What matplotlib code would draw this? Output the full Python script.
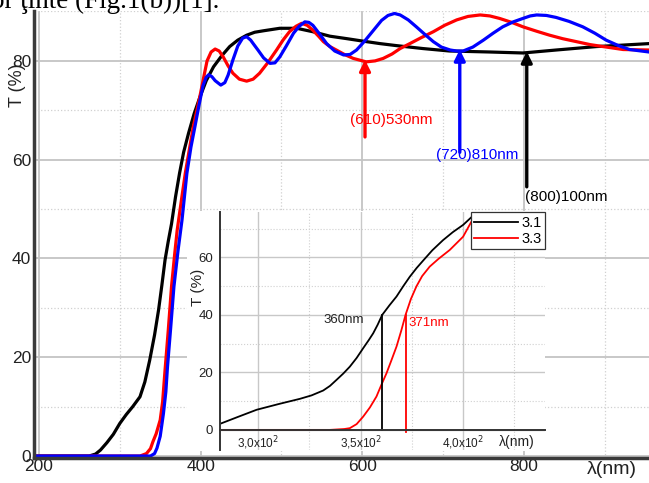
import numpy as np
import matplotlib

matplotlib.use("Agg")

import matplotlib.pyplot as plt
from matplotlib.patches import Rectangle

plt.rcParams['font.family'] = ['Liberation Sans', 'DejaVu Sans']

# main spectra (wavelength nm, T %)
black_wl = [195, 262, 270, 276, 284, 292, 300, 308, 316, 325, 331, 337, 343, 348, 352, 356, 360, 364,
            369, 374, 379, 385, 392, 399, 407, 416, 426, 436, 446, 457, 467, 478, 498, 519,
            539, 560, 581, 601, 622, 642, 675, 708, 758, 799, 840, 890, 923, 955]
black_t = [0, 0, 0.4, 1.2, 2.7, 4.4, 6.6, 8.4, 10.0, 12.0, 15.0, 19.4, 24.5, 29.6, 34.5, 39.7, 43.5, 47.0,
           52.5, 57.3, 61.5, 65.3, 69.3, 72.6, 76.0, 78.8, 81.0, 82.9, 84.2, 85.2, 85.8, 86.1, 86.6, 86.6,
           85.9, 85.0, 84.5, 84.0, 83.5, 83.1, 82.5, 82.0, 81.8, 81.6, 82.2, 82.9, 83.2, 83.5]

red_wl = [195, 325, 333, 338, 341, 345, 350, 353, 356, 360, 364, 368, 371, 376, 381, 386, 391,
          399, 404, 408, 413, 418, 423, 428, 434, 440, 448, 457, 465, 473, 483, 494, 502, 510,
          518, 525, 532, 539, 546, 552, 560, 568, 578, 589, 605, 616, 626, 637, 647, 659, 673,
          688, 702, 717, 731, 746, 758, 770, 785, 799, 816, 832, 848, 865, 882, 898, 923, 955]
red_t = [0, 0, 0.5, 1.5, 2.9, 4.5, 7.3, 11.0, 17.4, 25.5, 34.3, 41.0, 45.7, 51.5, 57.2, 62.0, 66.7,
         72.7, 76.8, 80.0, 81.8, 82.4, 82.0, 80.8, 79.0, 77.5, 76.3, 75.9, 76.3, 77.5, 79.6, 82.2, 84.2, 85.9,
         87.0, 87.6, 87.2, 86.2, 85.0, 83.9, 82.9, 82.2, 81.3, 80.5, 79.8, 80.0, 80.5, 81.4, 82.5, 83.5, 84.7,
         85.9, 87.2, 88.3, 89.0, 89.3, 89.1, 88.6, 87.8, 86.9, 86.0, 85.2, 84.5, 83.9, 83.3, 82.9, 82.3, 82.2]

blue_wl = [195, 338, 343, 346, 350, 354, 357, 359, 363, 367, 372, 377, 383, 388, 393, 398, 403,
           407, 410, 414, 418, 425, 430, 434, 440, 446, 452, 457, 462, 466, 471, 478, 486, 492,
           498, 506, 515, 522, 529, 534, 539, 547, 556, 566, 577, 585, 593, 603, 614, 624, 632,
           640, 647, 657, 667, 678, 688, 698, 709, 717, 725, 737, 750, 762, 774, 787, 799, 808,
           816, 828, 840, 856, 873, 888, 902, 917, 931, 955]
blue_t = [0, 0, 0.5, 1.6, 4.0, 8.6, 13.0, 18.0, 26.0, 34.3, 41.5, 47.8, 57.2, 62.5, 66.7, 71.0, 75.0,
          76.7, 77.2, 76.8, 76.0, 75.1, 75.6, 77.1, 80.2, 83.0, 84.6, 84.9, 84.2, 83.3, 82.2, 80.6, 79.5, 79.6,
          80.8, 83.0, 85.6, 87.0, 87.9, 87.8, 87.2, 85.5, 83.5, 82.0, 81.2, 81.3, 82.2, 84.0, 86.2, 88.2, 89.2,
          89.6, 89.3, 88.3, 86.9, 85.3, 83.9, 82.8, 82.2, 82.0, 82.0, 82.8, 84.2, 85.6, 86.9, 87.9, 88.6, 89.1,
          89.3, 89.2, 88.8, 88.0, 86.9, 85.6, 84.2, 83.1, 82.3, 81.8]

# inset: absorption edge of samples 3.1 and 3.3
in_wl_31 = [281.3, 290, 299.2, 310, 320.3, 326, 331.7, 335, 338.2, 341.5, 344.7, 348, 351.2, 354,
            356.1, 358.3, 360.5, 364, 367.5, 370.8, 374, 377.3, 380.5, 385, 390.2, 395, 400, 406.5]
in_t_31 = [2.1, 4.5, 7.0, 9.0, 10.8, 12.0, 13.7, 15.3, 17.4, 19.6, 22.0, 25.0, 28.4, 31.3,
           33.6, 36.6, 40.0, 43.3, 46.4, 50.0, 53.3, 56.3, 58.9, 62.5, 66.0, 68.8, 71.3, 75.6]
in_wl_33 = [281.3, 335, 342, 344.7, 348, 351.2, 354.5, 357.7, 360, 362.6, 365, 367.5, 369.8, 371.9,
            374.5, 377.2, 380, 383.7, 388, 393.5, 400, 406.5]
in_t_33 = [0, 0, 0.3, 0.6, 2.0, 4.6, 7.8, 11.6, 15.5, 19.7, 24.2, 29.0, 34.5, 40.0,
           45.5, 49.9, 53.5, 56.8, 59.5, 62.6, 67.2, 75.6]
in_xticks = [300, 350, 400]
in_xticklabels = ["3,0x10$^2$", "3,5x10$^2$", "4,0x10$^2$"]

fig = plt.figure(figsize=(6.49, 4.83), dpi=100)

ax = fig.add_axes([34 / 649, 25 / 483, 1 - 34 / 649, 447 / 483])
ax.set_xlim(193.8, 955)
ax.set_ylim(-0.4, 90.1)

ax.set_xticks([200, 400, 600, 800])
ax.set_xticks([300, 500, 700, 900], minor=True)
ax.set_yticks([0, 20, 40, 60, 80])
ax.set_yticks([10, 30, 50, 70, 90], minor=True)
ax.grid(True, which="major", color="#c4c4c4", lw=1.3)
ax.grid(True, which="minor", color="#d0d0d0", lw=0.9, ls=":")
ax.tick_params(which="both", length=0, labelsize=12.5, labelcolor="#222222")
ax.tick_params(axis="y", pad=2)
ax.tick_params(axis="x", pad=1)
for s in ["top", "right"]:
    ax.spines[s].set_visible(False)
for s in ["left", "bottom"]:
    ax.spines[s].set_color("#3a3a3a")
    ax.spines[s].set_linewidth(2.5)

ax.plot(black_wl, black_t, color="black", lw=2.3)
ax.plot(red_wl, red_t, color="#ff0000", lw=2.3)
ax.plot(blue_wl, blue_t, color="#0000ff", lw=2.3)

# arrows to the interference minima
arrows = [(603.5, 64.6, 80.2, "#ff0000", "(610)530nm", 635.5, 68.0),
          (720.8, 61.5, 82.3, "#0000ff", "(720)810nm", 742.6, 61.0),
          (803.7, 54.5, 81.9, "black", "(800)100nm", 853.0, 52.4)]
for xa, y0, y1, col, lab, tx, ty in arrows:
    ax.annotate("", xy=(xa, y1), xytext=(xa, y0),
                arrowprops=dict(arrowstyle="-|>", color=col, lw=2.4, mutation_scale=16,
                                shrinkA=0, shrinkB=0))
    ax.text(tx, ty, lab, color=col, fontsize=11, ha="center", va="center")

fig.text(18 / 649, 1 - 85 / 483, "T (%)", rotation=90, fontsize=13, color="#222222",
         ha="center", va="center")
fig.text(612 / 649, 1 - 470 / 483, "λ(nm)", fontsize=14, color="#222222",
         ha="center", va="center")

# caption fragment cut at the top of the picture
fig.text(-0.014, 1 - 7.5 / 483, "or ţinte (Fig.1(b))[1].", family="Liberation Serif",
         fontsize=19.5, ha="left", va="baseline")

# white box behind the inset
fig.patches.append(Rectangle((187 / 649, 32 / 483), 358 / 649, 240 / 483,
                             transform=fig.transFigure, facecolor="white",
                             edgecolor="none", zorder=1))

ax_in = fig.add_axes([220 / 649, 33 / 483, 325 / 649, 238 / 483])
ax_in.set_zorder(2)
ax_in.set_xlim(281.3, 440)
ax_in.set_ylim(-7, 75.8)
ax_in.set_xticks(in_xticks)
ax_in.set_xticklabels(in_xticklabels)
ax_in.set_xticks([325, 375, 425], minor=True)
ax_in.set_yticks([0, 20, 40, 60])
ax_in.set_yticks([10, 30, 50, 70], minor=True)
ax_in.grid(True, which="major", color="#c8c8c8", lw=1.0)
ax_in.grid(True, which="minor", color="#d0d0d0", lw=0.8, ls=":")
ax_in.tick_params(which="both", length=0, labelcolor="#222222")
ax_in.tick_params(axis="y", pad=5, labelsize=9.5)
ax_in.tick_params(axis="x", pad=3, labelsize=8.5)
ax_in.spines["top"].set_visible(False)
ax_in.spines["right"].set_visible(False)
ax_in.spines["bottom"].set_position(("data", 0))
for s in ["left", "bottom"]:
    ax_in.spines[s].set_color("#333333")
    ax_in.spines[s].set_linewidth(1.4)

ax_in.plot(in_wl_31, in_t_31, color="black", lw=1.3, label="3.1")
ax_in.plot(in_wl_33, in_t_33, color="#ff0000", lw=1.3, label="3.3")
ax_in.plot([360.5, 360.5], [0, 40], color="black", lw=1.3)
ax_in.plot([371.9, 371.9], [-0.6, 40], color="#ff0000", lw=1.3)
ax_in.text(341.5, 38.3, "360nm", fontsize=9.5, color="#222222", ha="center", va="center")
ax_in.text(383.4, 37.3, "371nm", fontsize=9.5, color="#ff0000", ha="center", va="center")
ax_in.text(426.3, -4.2, "λ(nm)", fontsize=10, color="#222222", ha="center", va="center")
fig.text(198 / 649, 1 - 287 / 483, "T (%)", rotation=90, fontsize=11, color="#222222",
         ha="center", va="center", zorder=5)

leg = ax_in.legend(loc="upper right", fontsize=10.5, frameon=True, fancybox=False,
                   borderaxespad=0, handlelength=3.0, borderpad=0.25, labelspacing=0.15,
                   handletextpad=0.2)
leg.get_frame().set_edgecolor("#333333")
leg.get_frame().set_linewidth(0.9)
leg.get_frame().set_alpha(1)

fig.savefig("out.png", dpi=100)
